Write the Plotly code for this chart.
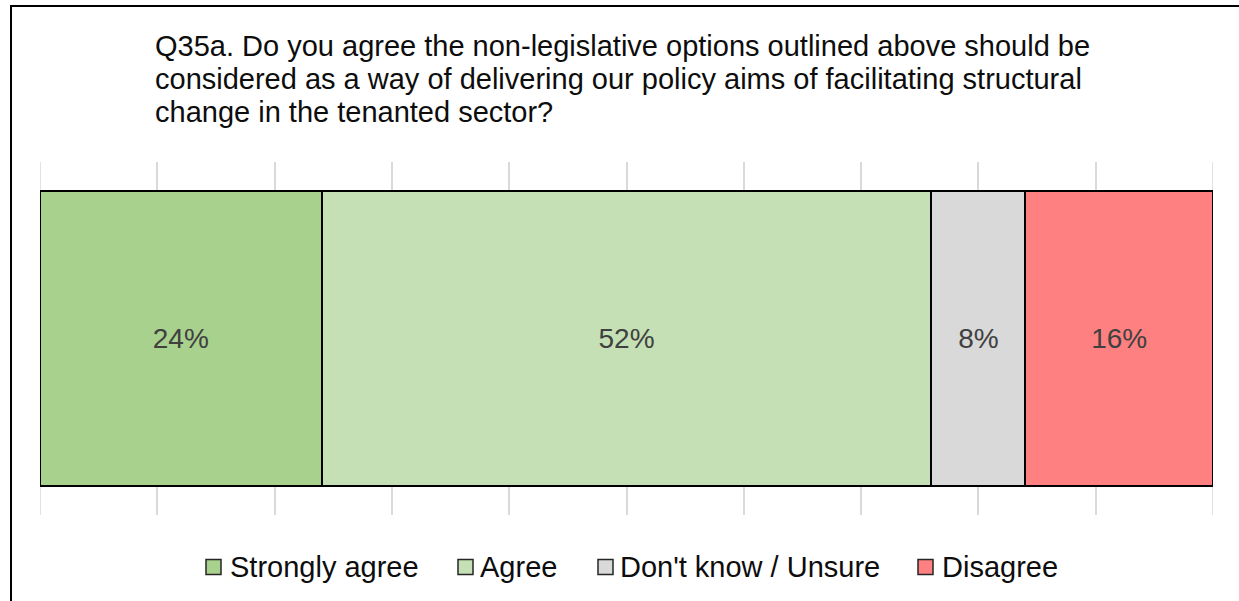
import plotly.graph_objects as go

# Survey response shares for Q35a
categories = ["Strongly agree", "Agree", "Don't know / Unsure", "Disagree"]
shares = [24, 52, 8, 16]
colors = ["#a9d18e", "#c5e0b4", "#d9d9d9", "#ff8080"]
row_label = ["Q35a"]
axis_range = [0, 100]

title_lines = [
    "Q35a. Do you agree the non-legislative options outlined above should be",
    "considered as a way of delivering our policy aims of facilitating structural",
    "change in the tenanted sector?",
]

FONT = "Liberation Sans, Arial, sans-serif"
W, H = 1239, 601
M_L, M_R, M_T, M_B = 40, 26, 162, 86
PW, PH = W - M_L - M_R, H - M_T - M_B
GRID_COLOR = "#d9d9d9"


def px_x(px):
    """Convert a horizontal pixel position into paper coordinates."""
    return (px - M_L) / PW


def px_y(py):
    """Convert a vertical pixel position into paper coordinates."""
    return (H - M_B - py) / PH


fig = go.Figure()
for name, val, col in zip(categories, shares, colors):
    fig.add_trace(go.Bar(
        name=name,
        x=[val],
        y=row_label,
        orientation="h",
        marker=dict(color=col, line=dict(color="#000000", width=2)),
        text=[f"{val}%"],
        textposition="inside",
        insidetextanchor="middle",
        textangle=0,
        constraintext="none",
        textfont=dict(family=FONT, size=28, color="#404040"),
        hoverinfo="skip",
        showlegend=False,
    ))

annotations = []
# Title, one annotation per line for tight line spacing
for i, line in enumerate(title_lines):
    annotations.append(dict(
        text=line,
        xref="paper", yref="paper",
        x=px_x(153), y=px_y(46 + 33 * i),
        xanchor="left", yanchor="middle",
        align="left",
        showarrow=False,
        font=dict(family=FONT, size=29, color="#0d0d0d"),
    ))

shapes = []
# Gridlines on the two ends of the value axis
for edge in axis_range:
    shapes.append(dict(
        type="line", xref="x", yref="paper",
        x0=edge, x1=edge, y0=0, y1=1,
        line=dict(color=GRID_COLOR, width=1.5),
        layer="below",
    ))

# Legend: coloured key squares followed by category labels
key_left = [206, 458, 598, 918]
label_left = [228, 478, 618, 940]
legend_y = 567
key_size = 15
for name, col, kx, tx in zip(categories, colors, key_left, label_left):
    shapes.append(dict(
        type="rect", xref="paper", yref="paper",
        x0=px_x(kx), x1=px_x(kx + key_size),
        y0=px_y(legend_y + key_size / 2), y1=px_y(legend_y - key_size / 2),
        fillcolor=col, line=dict(color="#262626", width=1.5),
    ))
    annotations.append(dict(
        text=name,
        xref="paper", yref="paper",
        x=px_x(tx), y=px_y(legend_y),
        xanchor="left", yanchor="middle",
        showarrow=False,
        font=dict(family=FONT, size=29, color="#0d0d0d"),
    ))

# Outer chart border
shapes.append(dict(
    type="rect",
    xref="paper", yref="paper",
    x0=px_x(11), x1=px_x(W + 20), y0=px_y(H + 20), y1=px_y(6),
    line=dict(color="#000000", width=2),
    fillcolor="rgba(0,0,0,0)",
    layer="above",
))

fig.update_layout(
    width=W,
    height=H,
    barmode="stack",
    bargap=0.164,
    plot_bgcolor="white",
    paper_bgcolor="white",
    margin=dict(l=M_L, r=M_R, t=M_T, b=M_B),
    font=dict(family=FONT, color="#000000"),
    xaxis=dict(
        range=axis_range,
        tick0=0,
        dtick=10,
        showgrid=True,
        gridcolor=GRID_COLOR,
        gridwidth=1.5,
        showticklabels=False,
        zeroline=False,
        showline=False,
        fixedrange=True,
    ),
    yaxis=dict(
        showticklabels=False,
        showgrid=False,
        zeroline=False,
        showline=False,
        fixedrange=True,
    ),
    showlegend=False,
    annotations=annotations,
    shapes=shapes,
)

fig.write_html("out.html")
